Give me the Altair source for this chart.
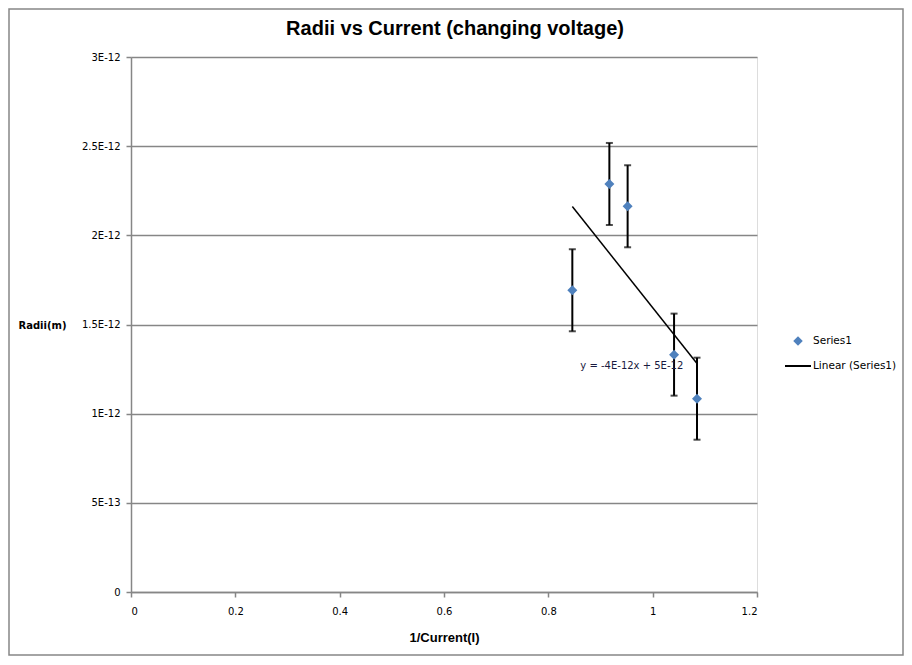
import altair as alt
import pandas as pd

# Data
inv_current = [0.846, 0.917, 0.952, 1.041, 1.085]
radii = [1.692e-12, 2.288e-12, 2.163e-12, 1.331e-12, 1.084e-12]
errors = [0.23e-12, 0.23e-12, 0.23e-12, 0.23e-12, 0.23e-12]

x_ticks = [0, 0.2, 0.4, 0.6, 0.8, 1, 1.2]
y_ticks = [0, 5e-13, 1e-12, 1.5e-12, 2e-12, 2.5e-12, 3e-12]

eq_label = ["y = -4E-12x + 5E-12"]
eq_x = [0.960]
eq_y = [1.267e-12]

legend_labels = ["Series1", "Linear (Series1)"]

df = pd.DataFrame({"x": inv_current, "y": radii, "err": errors})
df["lo"] = df["y"] - df["err"]
df["hi"] = df["y"] + df["err"]

GRID = "#868686"
TICKFONT = "DejaVu Sans"

xscale = alt.Scale(domain=[0, 1.2], nice=False, zero=True)
yscale = alt.Scale(domain=[0, 3e-12], nice=False, zero=True)

xaxis = alt.Axis(
    values=x_ticks, format="~g", grid=False, domainColor=GRID, domainWidth=1.5,
    tickColor=GRID, tickWidth=1.5, tickSize=5, labelFont=TICKFONT, labelFontSize=10,
    labelColor="#000000", labelPadding=9, title="1/Current(I)",
    titleFont="Liberation Sans", titleFontSize=13, titleFontWeight="bold",
    titleColor="#000000", titlePadding=15,
)
yaxis = alt.Axis(
    values=y_ticks,
    labelExpr="datum.value == 0 ? '0' : replace(format(datum.value, '.1~e'), 'e', 'E')",
    grid=True, gridColor=GRID, gridWidth=1.5, domainColor=GRID, domainWidth=1.5,
    tickColor=GRID, tickWidth=1.5, tickSize=5, labelFont=TICKFONT, labelFontSize=10,
    labelColor="#000000", labelPadding=6, title="Radii(m)", titleAngle=0,
    titleFont="DejaVu Sans", titleFontSize=10, titleFontWeight="bold", titleColor="#000000",
    titleX=-89, titleY=268, titleAlign="center", titleBaseline="middle",
)

base = alt.Chart(df)

grid_layer = base.mark_point(opacity=0).encode(
    x=alt.X("x:Q", scale=xscale, axis=xaxis),
    y=alt.Y("y:Q", scale=yscale, axis=yaxis),
)

err_rule = base.mark_rule(color="black", strokeWidth=2).encode(
    x="x:Q", y="lo:Q", y2="hi:Q"
)
cap_lo = base.mark_tick(color="black", thickness=2, size=7, orient="horizontal").encode(
    x="x:Q", y="lo:Q"
)
cap_hi = base.mark_tick(color="black", thickness=2, size=7, orient="horizontal").encode(
    x="x:Q", y="hi:Q"
)

trend = base.transform_regression("x", "y").mark_line(
    color="black", strokeWidth=1.5
).encode(x="x:Q", y="y:Q")

points = base.mark_point(shape="diamond", filled=True, size=100, color="#4F81BD", opacity=1).encode(
    x="x:Q", y="y:Q"
)

eq_df = pd.DataFrame({"x": eq_x, "y": eq_y, "t": eq_label})
eq_text = alt.Chart(eq_df).mark_text(
    font="DejaVu Sans", fontSize=10, color="#1a1a40", align="center", baseline="middle"
).encode(x="x:Q", y="y:Q", text="t:N")

# Manual legend (outside the plot area, right side)
leg_df = pd.DataFrame({"label": legend_labels})
leg_diamond = alt.Chart(leg_df.iloc[[0]]).mark_point(
    shape="diamond", filled=True, size=90, color="#4F81BD", opacity=1
).encode(x=alt.value(667), y=alt.value(284))
leg_line = alt.Chart(leg_df.iloc[[1]]).mark_rule(color="black", strokeWidth=2).encode(
    x=alt.value(654), x2=alt.value(680), y=alt.value(309)
)
leg_text1 = alt.Chart(leg_df.iloc[[0]]).mark_text(
    font=TICKFONT, fontSize=10.5, align="left", baseline="middle", color="#000000"
).encode(x=alt.value(682), y=alt.value(284), text="label:N")
leg_text2 = alt.Chart(leg_df.iloc[[1]]).mark_text(
    font=TICKFONT, fontSize=10.5, align="left", baseline="middle", color="#000000"
).encode(x=alt.value(682), y=alt.value(309), text="label:N")

frame = alt.Chart(leg_df.iloc[[0]]).mark_rect(
    fillOpacity=0, stroke=GRID, strokeWidth=1.5
).encode(x=alt.value(-122), x2=alt.value(772), y=alt.value(-48), y2=alt.value(598))

chart = alt.layer(
    frame, grid_layer, err_rule, cap_lo, cap_hi, trend, points, eq_text,
    leg_diamond, leg_line, leg_text1, leg_text2,
).properties(
    width=626, height=535,
    autosize=alt.AutoSizeParams(type="none"),
    padding={"left": 123, "top": 49, "right": 147, "bottom": 64},
    title=alt.TitleParams(
        "Radii vs Current (changing voltage)", font="Liberation Sans", fontSize=20,
        fontWeight="bold", color="#000000", anchor="middle", dx=11, offset=-31,
    ),
).configure_view(stroke=None).configure(background="white")

chart.save("out.html", embed_options={"renderer": "svg", "actions": False})
